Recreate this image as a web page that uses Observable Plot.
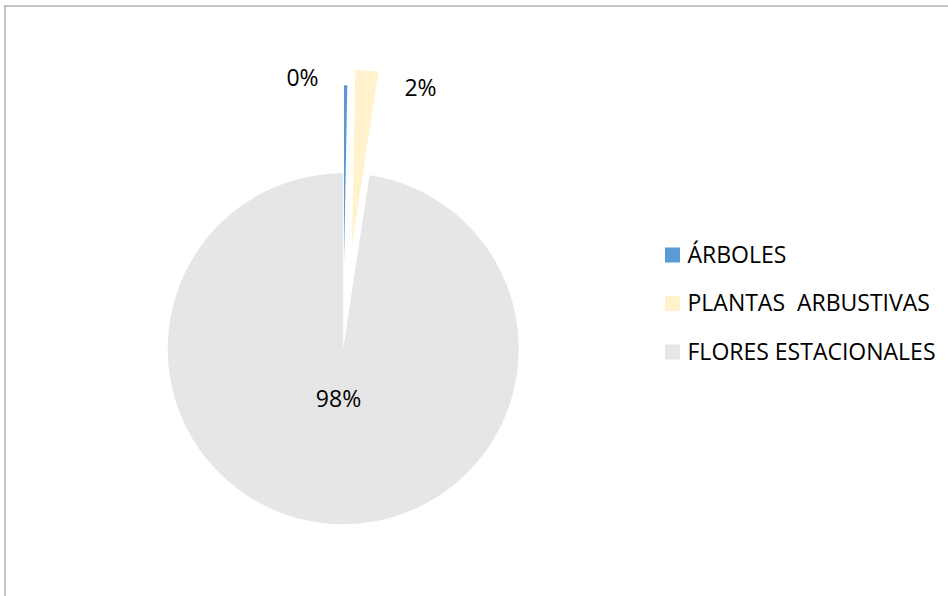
<!DOCTYPE html>
<html><head><meta charset="utf-8">
<script src="https://cdn.jsdelivr.net/npm/d3@7"></script>
<script src="https://cdn.jsdelivr.net/npm/@observablehq/plot@0.6"></script>
<style>
html,body{margin:0;padding:0;background:#fff;}
svg text{white-space:pre;}
</style></head><body><div id="chart"></div>
<script>
// ---- data ----
const categories = ["ÁRBOLES", "PLANTAS  ARBUSTIVAS", "FLORES ESTACIONALES"];
const values = [0.3, 2.1, 97.6];
const colors = ["#5B9BD5", "#FFF2CC", "#E7E6E6"];

// ---- layout (not data) ----
const W = 948, H = 596;
const center = {x: 343.2, y: 348.7}, R = 175.5;
const explode = [88, 103.6, 0];
const labelPos = [{x: 302, y: 78}, {x: 420, y: 88}, {x: 338, y: 399}];
const legend = {x: 665, y0: 255, dy: 48.5, size: 15, textX: 687};
const FS = 23;

const total = d3.sum(values);
const pieArcs = d3.pie().sort(null).value(d => d)(values);
const slices = categories.map((c, i) => ({
  category: c, value: values[i], color: colors[i],
  start: pieArcs[i].startAngle, end: pieArcs[i].endAngle, explode: explode[i], i
}));

function pieMark(index, scales) {
  const sx = (scales && scales.x) ? scales.x : (v => v);
  const sy = (scales && scales.y) ? scales.y : (v => v);
  const g = d3.create("svg:g");
  const arc = d3.arc();
  for (const s of slices) {
    const mid = (s.start + s.end) / 2;
    const cx = sx(center.x + s.explode * Math.sin(mid));
    const cy = sy(center.y - s.explode * Math.cos(mid));
    g.append("path")
      .attr("transform", `translate(${cx},${cy})`)
      .attr("d", arc({innerRadius: 0, outerRadius: R, startAngle: s.start, endAngle: s.end}))
      .attr("fill", s.color);
  }
  return g.node();
}

const chart = Plot.plot({
  width: W, height: H, margin: 0,
  x: {type: "identity", axis: null},
  y: {type: "identity", axis: null},
  style: {fontFamily: "'Open Sans', Lato, sans-serif", fontSize: FS + "px", background: "#fff", color: "#000"},
  marks: [
    Plot.ruleY([5.5], {x1: 4.5, x2: W, stroke: "#8c8c8c", strokeWidth: 1}),
    Plot.ruleX([4.5], {y1: 5.5, y2: H, stroke: "#8c8c8c", strokeWidth: 1}),
    pieMark,
    Plot.text(slices, {
      x: d => labelPos[d.i].x, y: d => labelPos[d.i].y,
      text: d => d3.format(".0%")(d.value / total),
      fill: "#000", fontSize: FS
    }),
    Plot.rect(slices, {
      x1: legend.x, x2: legend.x + legend.size,
      y1: d => legend.y0 + d.i * legend.dy - legend.size / 2,
      y2: d => legend.y0 + d.i * legend.dy + legend.size / 2,
      fill: d => d.color
    }),
    Plot.text(slices, {
      x: legend.textX, y: d => legend.y0 + d.i * legend.dy,
      text: d => d.category, textAnchor: "start", fill: "#000", fontSize: FS
    })
  ]
});
document.getElementById("chart").appendChild(chart);
</script></body></html>
